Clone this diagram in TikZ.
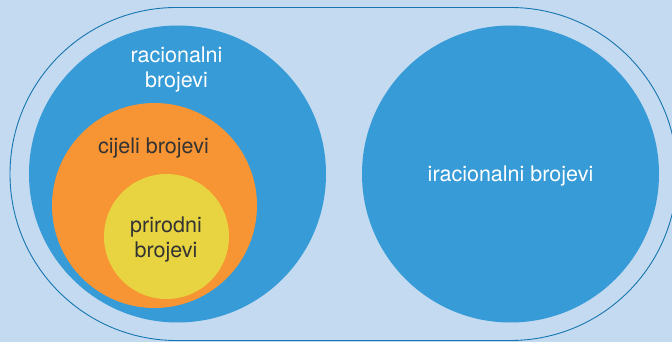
\documentclass[tikz,border=0pt]{standalone}
\usepackage{fontspec}
\setmainfont{TeX Gyre Heros}

\definecolor{bgblue}{RGB}{196,218,240}
\definecolor{rimblue}{RGB}{22,118,175}
\definecolor{setblue}{RGB}{54,155,214}
\definecolor{setorange}{RGB}{247,148,51}
\definecolor{setyellow}{RGB}{232,211,64}
\definecolor{darktext}{RGB}{51,51,51}

\begin{document}
\begin{tikzpicture}[x=1pt,y=-1pt,font=\fontsize{21.5}{25.5}\selectfont,
  setlabel/.style={align=center,inner sep=0pt}]

\useasboundingbox (0,0) rectangle (672,342);
\fill[bgblue] (0,0) rectangle (672,342);
\clip (0,0) rectangle (672,342);

% outer frame
\draw[rimblue,line width=0.9pt,rounded corners=166.5pt] (10,7.5) rectangle (677,340.5);

% sets
\fill[setblue] (177.5,174) circle (148.5pt);
\fill[setblue] (510.5,174) circle (148.5pt);
\fill[setorange] (154.5,205.5) circle (102.5pt);
\fill[setyellow] (166.5,236.5) circle (62.5pt);

\node[setlabel,text=white] (rac) at (176.5,69.5) {racionalni\\brojevi};
\node[setlabel,text=darktext] (cij) at (153.5,148.5) {cijeli brojevi};
\node[setlabel,text=darktext] (pri) at (166,239.5) {prirodni\\brojevi};
\node[setlabel,text=white] (irac) at (510.5,176.5) {iracionalni brojevi};

\end{tikzpicture}
\end{document}
